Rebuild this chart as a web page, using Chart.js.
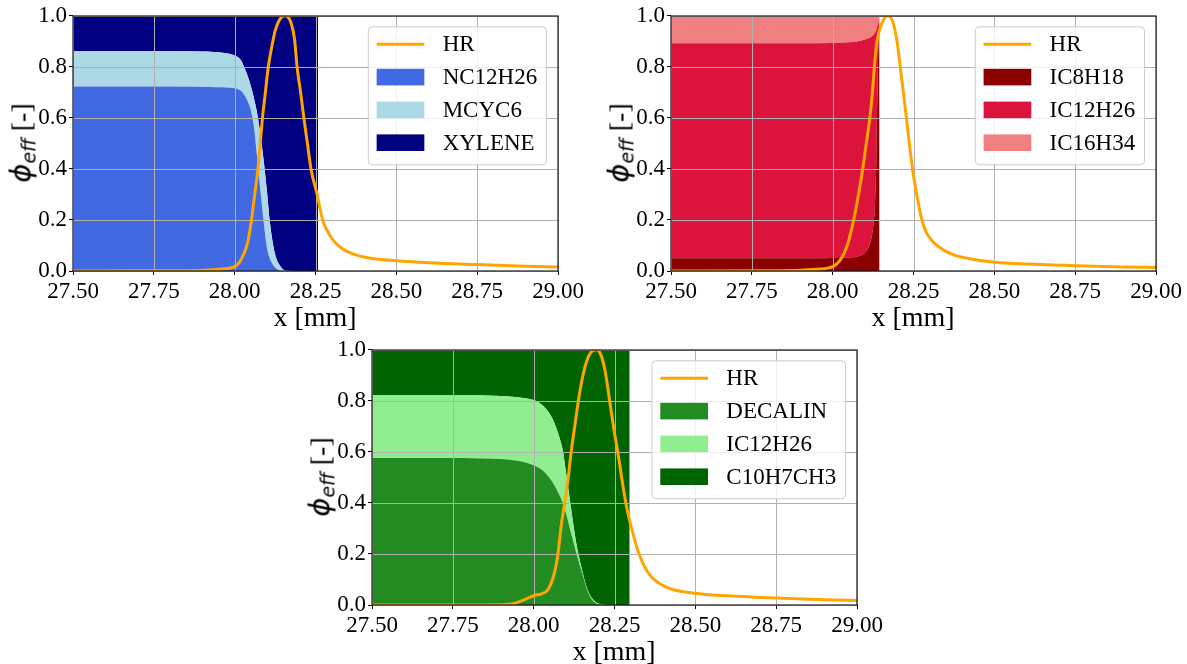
<!DOCTYPE html>
<html><head><meta charset="utf-8">
<script src="https://cdn.jsdelivr.net/npm/chart.js@4.4.0/dist/chart.umd.min.js"></script>
<style>
html,body{margin:0;padding:0;background:#fff;overflow:hidden;width:1187px;height:664px}
canvas{position:absolute}
.xl{position:absolute;font-family:"Liberation Serif",serif;font-size:28px;transform:translate(-50%,-50%);white-space:nowrap;color:#000;line-height:1}
.yl{position:absolute;transform:translate(-50%,-50%) rotate(-90deg);white-space:nowrap;font-family:"Liberation Serif",serif;font-size:28px;color:#000;line-height:1}
.phi{font-family:"DejaVu Sans",sans-serif;font-style:italic;font-size:29px}
.eff{font-family:"DejaVu Sans",sans-serif;font-style:italic;font-size:19px;position:relative;top:5px}
</style></head><body>
<canvas id="cA" width="588" height="316" style="left:0px;top:0px"></canvas>
<canvas id="cB" width="588" height="316" style="left:598px;top:0px"></canvas>
<canvas id="cC" width="588" height="316" style="left:299px;top:334px"></canvas>
<div class="xl" style="left:315px;top:317px">x [mm]</div>
<div class="xl" style="left:913px;top:317px">x [mm]</div>
<div class="xl" style="left:614px;top:651px">x [mm]</div>
<div class="yl" style="left:21px;top:143px"><span class="phi">ϕ</span><span class="eff">eff</span> [-]</div>
<div class="yl" style="left:619px;top:143px"><span class="phi">ϕ</span><span class="eff">eff</span> [-]</div>
<div class="yl" style="left:320px;top:477px"><span class="phi">ϕ</span><span class="eff">eff</span> [-]</div>
<script>
// ---- tick labels ----
const xTicks = [27.5, 27.75, 28.0, 28.25, 28.5, 28.75, 29.0];
const yTicks = [0, 0.2, 0.4, 0.6, 0.8, 1.0];

// ---- Panel A (top-left) ----
const xA = [27.5,27.7,27.9,27.95,28.0,28.02,28.03,28.04,28.05,28.06,28.07,28.08,28.09,28.10,28.11,28.12,28.13,28.14,28.15,28.16,28.2,28.258];
const nc12h26 = [0.723,0.723,0.722,0.720,0.716,0.705,0.690,0.665,0.630,0.560,0.440,0.310,0.190,0.090,0.045,0.022,0.008,0.002,0,0,0,0];
const mcyc6 = [0.139,0.139,0.138,0.137,0.128,0.120,0.107,0.100,0.095,0.115,0.175,0.220,0.240,0.220,0.135,0.073,0.037,0.020,0.006,0.001,0,0];
const xylene = [0.138,0.138,0.140,0.143,0.156,0.175,0.203,0.235,0.275,0.325,0.385,0.470,0.570,0.690,0.820,0.905,0.955,0.978,0.994,0.999,1.0,1.0];
const xA_hr = [27.5,27.7,27.8,27.9,27.95,28.0,28.02,28.04,28.052,28.062,28.072,28.086,28.095,28.104,28.115,28.125,28.135,28.145,28.155,28.165,28.175,28.185,28.193,28.204,28.214,28.225,28.236,28.255,28.272,28.29,28.305,28.33,28.37,28.42,28.5,28.6,28.75,28.9,29.0];
const hrA = [0,0.0005,0.001,0.003,0.007,0.017,0.045,0.11,0.2,0.3,0.4,0.6,0.7,0.8,0.88,0.94,0.975,0.995,1.0,0.995,0.97,0.91,0.8,0.7,0.6,0.5,0.4,0.3,0.2,0.15,0.12,0.09,0.065,0.05,0.04,0.032,0.025,0.019,0.016];

// ---- Panel B (top-right) ----
const xB = [27.5,27.7,27.9,28.0,28.05,28.08,28.10,28.11,28.12,28.125,28.13,28.135,28.14,28.145];
const ic8h18 = [0.050,0.050,0.050,0.051,0.053,0.058,0.072,0.090,0.130,0.170,0.240,0.430,0.800,0.970];
const ic12h26B = [0.842,0.842,0.842,0.842,0.843,0.842,0.835,0.821,0.788,0.754,0.692,0.515,0.168,0.025];
const ic16h34 = [0.108,0.108,0.108,0.107,0.104,0.100,0.093,0.089,0.082,0.076,0.068,0.055,0.032,0.005];
const xB_hr = [27.5,27.8,27.9,27.95,28.0,28.027,28.045,28.065,28.08,28.093,28.104,28.115,28.123,28.129,28.137,28.152,28.17,28.185,28.199,28.209,28.228,28.247,28.26,28.276,28.29,28.31,28.333,28.37,28.416,28.5,28.6,28.75,28.9,29.0];
const hrB = [0,0.001,0.003,0.007,0.017,0.05,0.1,0.2,0.3,0.4,0.5,0.6,0.7,0.8,0.9,0.97,1.0,0.98,0.9,0.8,0.6,0.4,0.3,0.2,0.15,0.115,0.09,0.065,0.05,0.034,0.027,0.021,0.016,0.014];

// ---- Panel C (bottom) ----
const xC = [27.5,27.7,27.85,27.95,28.0,28.02,28.04,28.06,28.08,28.09,28.10,28.11,28.12,28.13,28.14,28.15,28.16,28.17,28.18,28.19,28.20,28.22,28.25,28.297];
const decalin = [0.576,0.576,0.574,0.565,0.548,0.535,0.512,0.478,0.430,0.400,0.360,0.310,0.262,0.213,0.168,0.125,0.080,0.045,0.022,0.009,0.003,0.001,0,0];
const ic12h26C = [0.247,0.247,0.247,0.249,0.255,0.255,0.254,0.247,0.225,0.205,0.160,0.120,0.078,0.042,0.022,0.010,0.005,0.005,0.005,0.004,0.003,0,0,0];
const c10h7ch3 = [0.177,0.177,0.179,0.186,0.197,0.210,0.234,0.275,0.345,0.395,0.480,0.570,0.660,0.745,0.810,0.865,0.915,0.950,0.973,0.987,0.994,0.999,1.0,1.0];
const xC_hr = [27.5,27.8,27.9,27.94,27.97,28.0,28.025,28.045,28.065,28.075,28.085,28.096,28.106,28.116,28.127,28.142,28.157,28.173,28.193,28.208,28.222,28.235,28.248,28.26,28.285,28.305,28.326,28.358,28.41,28.5,28.6,28.75,28.9,29.0];
const hrC = [0,0,0.001,0.006,0.02,0.037,0.044,0.062,0.13,0.2,0.31,0.4,0.49,0.6,0.7,0.83,0.925,0.983,1.0,0.98,0.91,0.8,0.69,0.6,0.4,0.29,0.2,0.12,0.07,0.046,0.036,0.027,0.021,0.018];

const HR_COLOR = '#FFA500';
const TICK_FONT = {family:'"Liberation Serif", serif', size:23};

const mplPlugin = {
  id:'mpl',
  beforeDatasetDraw(chart, args){
    if (args.index !== 0) return;
    const ctx = chart.ctx, a = chart.chartArea, xs = chart.scales.x, ys = chart.scales.y;
    ctx.save();
    ctx.strokeStyle = '#b0b0b0'; ctx.lineWidth = 1;
    ctx.beginPath();
    xs.ticks.forEach(t => { const p = Math.round(xs.getPixelForValue(t.value)) + 0.5; ctx.moveTo(p, a.top); ctx.lineTo(p, a.bottom); });
    ys.ticks.forEach(t => { const p = Math.round(ys.getPixelForValue(t.value)) + 0.5; ctx.moveTo(a.left, p); ctx.lineTo(a.right, p); });
    ctx.stroke();
    ctx.restore();
  },
  afterDatasetsDraw(chart){
    const ctx = chart.ctx, a = chart.chartArea;
    ctx.save();
    ctx.strokeStyle = '#1a1a1a'; ctx.lineWidth = 1.2;
    ctx.strokeRect(Math.round(a.left), Math.round(a.top), Math.round(a.right - a.left), Math.round(a.bottom - a.top));
    ctx.restore();
  },
  afterDraw(chart){
    const ctx = chart.ctx, a = chart.chartArea, ds = chart.data.datasets;
    ctx.save();
    ctx.font = '23px "Liberation Serif"';
    let maxW = 0;
    ds.forEach(d => { maxW = Math.max(maxW, ctx.measureText(d.label).width); });
    const w = 74.3 + maxW + 9.3, h = 138;
    const x0 = a.right - 11.5 - w, y0 = a.top + 11, r = 4;
    ctx.beginPath();
    ctx.moveTo(x0 + r, y0); ctx.lineTo(x0 + w - r, y0); ctx.arcTo(x0 + w, y0, x0 + w, y0 + r, r);
    ctx.lineTo(x0 + w, y0 + h - r); ctx.arcTo(x0 + w, y0 + h, x0 + w - r, y0 + h, r);
    ctx.lineTo(x0 + r, y0 + h); ctx.arcTo(x0, y0 + h, x0, y0 + h - r, r);
    ctx.lineTo(x0, y0 + r); ctx.arcTo(x0, y0, x0 + r, y0, r); ctx.closePath();
    ctx.fillStyle = 'rgba(255,255,255,0.8)'; ctx.fill();
    ctx.strokeStyle = '#cccccc'; ctx.lineWidth = 1; ctx.stroke();
    ds.forEach((d, i) => {
      const cy = y0 + 17.5 + 32.8 * i;
      if (i === 0) {
        ctx.strokeStyle = d.borderColor; ctx.lineWidth = 3;
        ctx.beginPath(); ctx.moveTo(x0 + 8.3, cy); ctx.lineTo(x0 + 56, cy); ctx.stroke();
      } else {
        ctx.fillStyle = d.backgroundColor;
        ctx.fillRect(x0 + 8.3, cy - 8.3, 47.7, 16.6);
      }
      ctx.fillStyle = '#000'; ctx.textBaseline = 'middle'; ctx.textAlign = 'left';
      ctx.fillText(d.label, x0 + 74.3, cy + 1);
    });
    ctx.restore();
  }
};

function pts(xs, ys){ return xs.map((x, i) => ({x: x, y: ys[i]})); }

function makeChart(id, hrX, hrY, spX, species){
  const datasets = [{
    label:'HR', data: pts(hrX, hrY), borderColor: HR_COLOR, backgroundColor: HR_COLOR,
    borderWidth:3, pointRadius:0, fill:false, stack:'hr', cubicInterpolationMode:'monotone', clip:0
  }];
  species.forEach((s, i) => {
    datasets.push({
      label: s.label, data: pts(spX, s.values), backgroundColor: s.color,
      borderColor:'rgba(0,0,0,0)', borderWidth:0, pointRadius:0,
      fill: i === 0 ? 'origin' : '-1', stack:'sp', cubicInterpolationMode:'monotone', clip:0
    });
  });
  const axisCommon = {
    grid:{drawOnChartArea:false, drawTicks:true, tickLength:4, tickColor:'#000', tickWidth:1},
    border:{display:false}
  };
  return new Chart(document.getElementById(id), {
    type:'line',
    data:{datasets: datasets},
    options:{
      responsive:false, animation:false, devicePixelRatio:1,
      layout:{padding:{left:0, top:15, right:30, bottom:0}},
      plugins:{legend:{display:false}, tooltip:{enabled:false}},
      scales:{
        x: Object.assign({
          type:'linear', min:27.5, max:29.0,
          afterBuildTicks: s => { s.ticks = xTicks.map(v => ({value:v})); },
          afterFit: s => { s.height = 45; },
          ticks:{callback: v => Number(v).toFixed(2), font:TICK_FONT, color:'#000', padding:3, maxRotation:0, autoSkip:false}
        }, axisCommon),
        y: Object.assign({
          type:'linear', stacked:true, min:0, max:1.0,
          afterBuildTicks: s => { s.ticks = yTicks.map(v => ({value:v})); },
          afterFit: s => { s.width = 73; },
          ticks:{callback: v => Number(v).toFixed(1), font:TICK_FONT, color:'#000', padding:2}
        }, axisCommon)
      }
    },
    plugins:[mplPlugin]
  });
}

makeChart('cA', xA_hr, hrA, xA, [
  {label:'NC12H26', values:nc12h26, color:'#4169E1'},
  {label:'MCYC6', values:mcyc6, color:'#ADD8E6'},
  {label:'XYLENE', values:xylene, color:'#000080'}
]);
makeChart('cB', xB_hr, hrB, xB, [
  {label:'IC8H18', values:ic8h18, color:'#8B0000'},
  {label:'IC12H26', values:ic12h26B, color:'#DC143C'},
  {label:'IC16H34', values:ic16h34, color:'#F08080'}
]);
makeChart('cC', xC_hr, hrC, xC, [
  {label:'DECALIN', values:decalin, color:'#228B22'},
  {label:'IC12H26', values:ic12h26C, color:'#90EE90'},
  {label:'C10H7CH3', values:c10h7ch3, color:'#006400'}
]);
</script>
</body></html>
